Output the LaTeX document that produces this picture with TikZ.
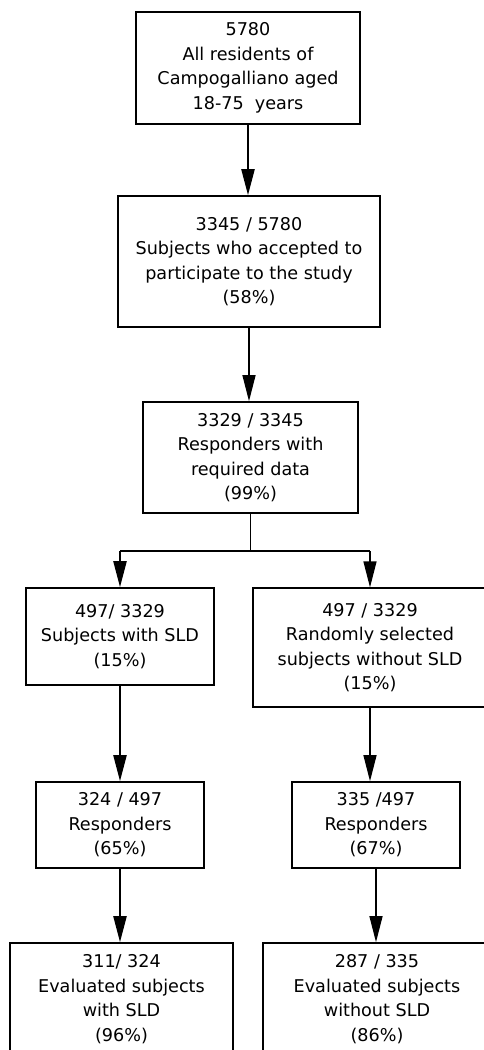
\documentclass[tikz,border=0pt]{standalone}
\usepackage{fontspec}
\setmainfont{DejaVu Sans}
\usetikzlibrary{arrows.meta}
\begin{document}
\begin{tikzpicture}[x=1pt,y=-1pt,
 box/.style={draw, line width=1.6pt, inner sep=0pt, align=center, font=\fontsize{17.6}{24.5}\selectfont},
 thickarrow/.style={line width=2.2pt, -{Triangle[length=26pt,width=13pt]}},
 thinarrow/.style={line width=1.2pt, -{Triangle[length=26pt,width=13pt]}},
 splitline/.style={line width=2pt}]
\useasboundingbox (0,0) rectangle (484,1050);
\clip (0,0) rectangle (484,1050);
\node[box, minimum width=224pt, minimum height=112pt] (b1) at (248,68)
  {5780\\All residents of\\Campogalliano aged\\18-75~~years};
\node[box, minimum width=262pt, minimum height=131pt] (b2) at (249,261.5)
  {3345 / 5780\\Subjects who accepted to\\participate to the study\\(58\%)};
\node[box, minimum width=215pt, minimum height=111pt] (b3) at (250.5,457.5)
  {3329 / 3345\\Responders with\\required data\\(99\%)};
\node[box, minimum width=188pt, minimum height=97pt] (b4) at (120,636.5)
  {497/ 3329\\Subjects with SLD\\(15\%)};
\node[box, line width=1.2pt, minimum width=234pt, minimum height=119pt] (b5) at (370,647.5)
  {497 / 3329\\Randomly selected\\subjects without SLD\\(15\%)};
\node[box, minimum width=168pt, minimum height=86pt] (b6) at (120,825)
  {324 / 497\\Responders\\(65\%)};
\node[box, minimum width=168pt, minimum height=86pt] (b7) at (376,825)
  {335 /497\\Responders\\(67\%)};
\node[box, minimum width=223pt, minimum height=112pt] (b8) at (121.5,999)
  {311/ 324\\Evaluated subjects\\with SLD\\(96\%)};
\node[box, minimum width=228pt, minimum height=112pt] (b9) at (377,999)
  {287 / 335\\Evaluated subjects\\without SLD\\(86\%)};
\coordinate (sp) at (250.5,551);
\draw[thickarrow] (b1.south) -- (b1.south |- b2.north);
\draw[thinarrow] (b2.south) -- (b2.south |- b3.north);
\draw[line width=1.2pt] (b3.south) -- (sp);
\draw[splitline] (b4.north |- sp) -- (b5.north |- sp);
\draw[thickarrow] (b4.north |- sp) -- (b4.north);
\draw[thinarrow] (b5.north |- sp) -- (b5.north);
\draw[thickarrow] (b4.south) -- (b6.north);
\draw[thinarrow] (b5.south) -- (b5.south |- b7.north);
\draw[thickarrow] (b6.south) -- (b6.south |- b8.north);
\draw[thinarrow] (b7.south) -- (b7.south |- b9.north);
\end{tikzpicture}
\end{document}
